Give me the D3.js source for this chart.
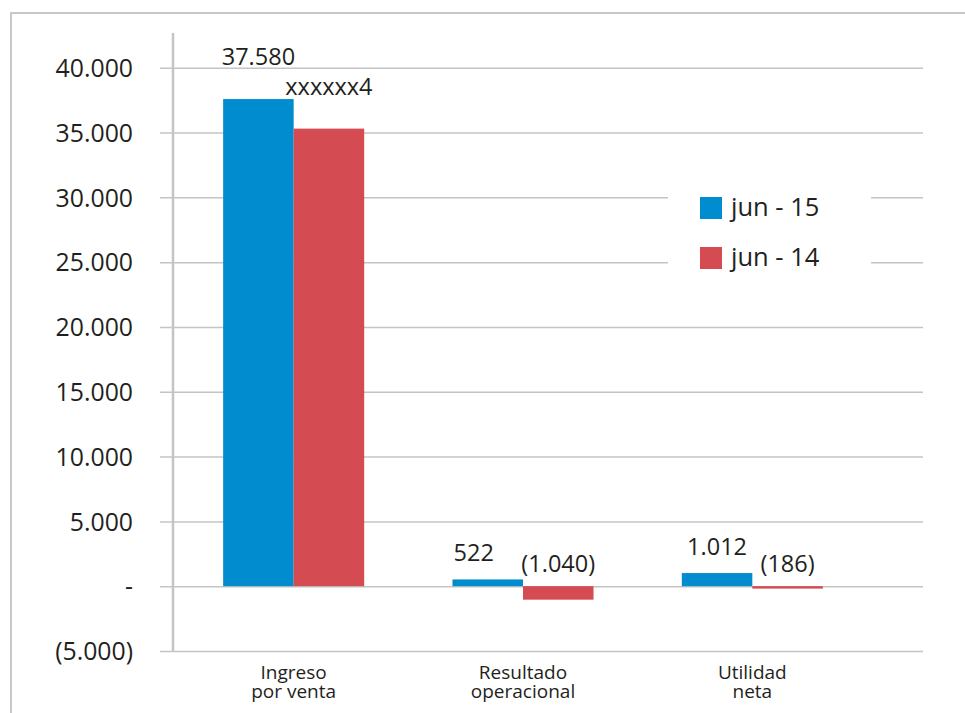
<!DOCTYPE html>
<html>
<head>
<meta charset="utf-8">
<script src="https://cdn.jsdelivr.net/npm/d3@7/dist/d3.min.js"></script>
<style>
  html, body { margin: 0; padding: 0; background: #ffffff; }
  svg { display: block; font-family: "Open Sans", sans-serif; }
</style>
</head>
<body>
<svg id="chart" width="965" height="713"></svg>
<script>
// data
const categories = [['Ingreso', 'por venta'], ['Resultado', 'operacional'], ['Utilidad', 'neta']];
const seriesNames = ['jun - 15', 'jun - 14'];
const jun15 = [37580, 522, 1012];
const jun14 = [35300, -1040, -186];
const jun14Labels = ['xxxxxx4', '(1.040)', '(186)'];
const tickValues = [-5000, 0, 5000, 10000, 15000, 20000, 25000, 30000, 35000, 40000];

const colors = ['#008ccf', '#d44b52'];
const textColor = '#231f20';
const gridColor = '#c4c4c4';
// how far the value labels sit above the bar top (per category)
const labelLift = [34, 18, 18];
// horizontal nudge of the labels, per series and category
const labelNudge = [[0, -14, 0], [0, 0, 0]];

const svg = d3.select('#chart');

// outer frame (only top and left edges are in view)
svg.append('rect')
   .attr('x', 11)
   .attr('y', 13)
   .attr('width', 1000)
   .attr('height', 800)
   .attr('fill', 'none')
   .attr('stroke', '#c8c8c8')
   .attr('stroke-width', 2);

const y = d3.scaleLinear()
            .domain([-5000, 40000])
            .range([651, 67.7]);

const x0 = d3.scaleBand()
             .domain(d3.range(categories.length))
             .range([179, 867])
             .paddingInner(0.385)
             .paddingOuter(0.1925);

const x1 = d3.scaleBand()
             .domain(d3.range(seriesNames.length))
             .range([0, x0.bandwidth()]);

// number format like 37.580 / (1.040)
const fmt = v => {
  if (v === 0) return '-';
  const s = d3.format(',')(Math.abs(v)).replace(/,/g, '.');
  return v < 0 ? `(${s})` : s;
};

const gridLeft = 160, gridRight = 923;

// gridlines + tick labels through a d3 axis
const yAxis = d3.axisLeft(y)
                .tickValues(tickValues)
                .tickSize(0)
                .tickFormat(fmt);

const axisG = svg.append('g')
                 .attr('transform', `translate(${gridRight},0)`)
                 .call(yAxis);
axisG.select('.domain').remove();
axisG.selectAll('.tick line')
     .attr('x1', 0)
     .attr('x2', -(gridRight - gridLeft))
     .attr('stroke', gridColor)
     .attr('stroke-width', 1.5);
axisG.selectAll('.tick text')
     .attr('x', -(gridRight - 133))
     .attr('dy', '0.35em')
     .attr('text-anchor', 'end')
     .attr('font-size', 24.8)
     .attr('font-family', '"Open Sans", sans-serif')
     .attr('fill', textColor);

// vertical axis line
svg.append('line')
   .attr('x1', 173)
   .attr('x2', 173)
   .attr('y1', 33)
   .attr('y2', y(-5000) + 1)
   .attr('stroke', gridColor)
   .attr('stroke-width', 2.5);

// legend (white box over the gridlines)
const legend = svg.append('g').attr('id', 'legend');
legend.append('rect')
      .attr('x', 668)
      .attr('y', 170)
      .attr('width', 203)
      .attr('height', 125)
      .attr('fill', '#ffffff');
seriesNames.forEach((name, i) => {
  legend.append('rect')
        .attr('x', 700)
        .attr('y', 197 + i * 50)
        .attr('width', 22)
        .attr('height', 22)
        .attr('fill', colors[i]);
  legend.append('text')
        .attr('x', 731)
        .attr('y', 216 + i * 50)
        .attr('font-size', 25.5)
        .attr('fill', textColor)
        .text(name);
});

// bars
const series = [jun15, jun14];
const bars = svg.append('g').attr('id', 'bars');
series.forEach((vals, s) => {
  vals.forEach((v, c) => {
    bars.append('rect')
        .attr('x', x0(c) + x1(s))
        .attr('y', y(Math.max(v, 0)))
        .attr('width', x1.bandwidth())
        .attr('height', Math.abs(y(v) - y(0)))
        .attr('fill', colors[s]);
  });
});

// value labels
const labels = svg.append('g').attr('id', 'labels');
series.forEach((vals, s) => {
  vals.forEach((v, c) => {
    const txt = s === 1 ? jun14Labels[c] : fmt(v);
    const top = y(Math.max(v, 0));
    // the negative labels sit a little lower, just above the zero line
    const lift = v < 0 ? labelLift[c] - 4 : labelLift[c];
    labels.append('text')
          .attr('x', x0(c) + x1(s) + x1.bandwidth() / 2 + labelNudge[s][c])
          .attr('y', top - lift)
          .attr('text-anchor', 'middle')
          .attr('font-size', 23.5)
          .attr('fill', textColor)
          .text(txt);
  });
});

// category labels
const catG = svg.append('g').attr('id', 'categories');
categories.forEach((lines, c) => {
  const cx = x0(c) + x0.bandwidth() / 2;
  lines.forEach((line, k) => {
    catG.append('text')
        .attr('x', cx)
        .attr('y', 679 + k * 19)
        .attr('text-anchor', 'middle')
        .attr('font-size', 19)
        .attr('fill', textColor)
        .text(line);
  });
});
</script>
</body>
</html>
